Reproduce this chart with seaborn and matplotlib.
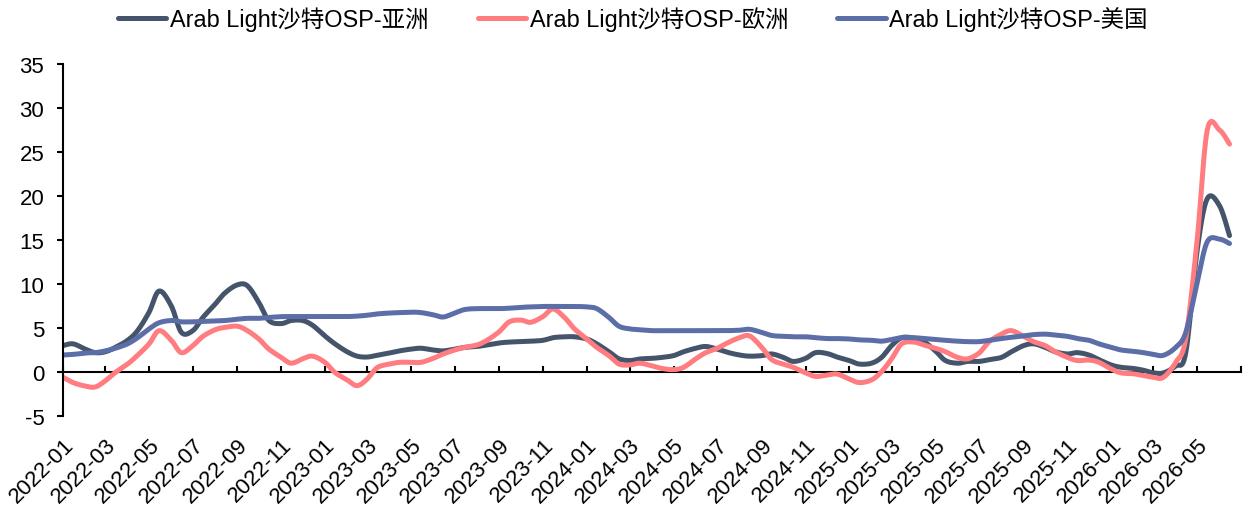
import numpy as np
import pandas as pd
import seaborn as sns
import matplotlib.pyplot as plt
import matplotlib.dates as mdates

# semi-monthly observations, 2022-01-01 .. 2026-06-15
dates = pd.date_range('2022-01-01', periods=108, freq='SMS')

asia = [
    3.0, 3.2, 2.6, 2.2, 2.3, 2.8, 3.6, 4.7, 6.8, 9.2, 7.5, 4.5,
    4.7, 6.2, 7.7, 9.0, 9.9, 9.8, 7.9, 5.85, 5.5, 5.85, 5.85, 5.3,
    4.1, 3.2, 2.3, 1.8, 1.7, 1.9, 2.16, 2.4, 2.6, 2.7, 2.5, 2.4,
    2.6, 2.8, 2.9, 3.07, 3.3, 3.4, 3.45, 3.5, 3.6, 3.9, 4.0, 4.0,
    3.75, 3.2, 2.3, 1.5, 1.3, 1.48, 1.55, 1.66, 1.86, 2.3, 2.7, 2.9,
    2.6, 2.24, 1.93, 1.8, 1.86, 2.05, 1.66, 1.2, 1.55, 2.2, 2.1, 1.7,
    1.3, 0.9, 1.0, 1.66, 3.0, 3.9, 3.85, 3.45, 2.4, 1.3, 1.0, 1.2,
    1.2, 1.4, 1.66, 2.3, 3.0, 3.2, 2.8, 2.3, 2.05, 2.2, 1.93, 1.4,
    0.8, 0.53, 0.4, 0.2, -0.1, -0.1, 0.7, 2.2, 13.9, 19.7, 18.9, 15.5,
]
europe = [
    -0.6, -1.2, -1.6, -1.7, -1.0, -0.05, 0.9, 1.9, 3.2, 4.7, 3.6, 2.2,
    3.0, 4.05, 4.8, 5.07, 5.2, 4.7, 3.75, 2.6, 1.67, 1.0, 1.5, 1.8,
    1.1, -0.05, -0.9, -1.55, -0.8, 0.5, 0.9, 1.1, 1.1, 1.1, 1.55, 2.05,
    2.5, 2.8, 3.07, 3.6, 4.58, 5.7, 5.9, 5.65, 6.3, 7.16, 6.2, 4.9,
    3.75, 2.8, 1.85, 0.9, 0.8, 1.0, 0.7, 0.4, 0.27, 0.53, 1.5, 2.2,
    2.7, 3.3, 3.9, 4.1, 2.8, 1.4, 0.9, 0.53, -0.1, -0.5, -0.35, -0.23,
    -0.8, -1.2, -0.9, 0.04, 1.5, 3.2, 3.4, 3.07, 2.7, 2.3, 1.66, 1.5,
    2.16, 3.45, 4.3, 4.7, 4.05, 3.45, 3.0, 2.3, 1.66, 1.3, 1.36, 1.1,
    0.34, -0.1, -0.2, -0.4, -0.6, -0.6, 1.1, 3.8, 15.1, 27.5, 27.5, 25.9,
]
usa = [
    1.93, 2.0, 2.16, 2.2, 2.4, 2.7, 3.2, 3.9, 4.9, 5.6, 5.85, 5.7,
    5.7, 5.75, 5.8, 5.85, 6.0, 6.1, 6.1, 6.2, 6.29, 6.3, 6.3, 6.3,
    6.3, 6.3, 6.3, 6.35, 6.45, 6.6, 6.7, 6.75, 6.8, 6.75, 6.5, 6.25,
    6.7, 7.1, 7.2, 7.2, 7.2, 7.25, 7.35, 7.4, 7.45, 7.45, 7.45, 7.45,
    7.4, 7.2, 6.2, 5.2, 4.9, 4.8, 4.7, 4.7, 4.7, 4.7, 4.7, 4.7,
    4.7, 4.7, 4.75, 4.85, 4.5, 4.15, 4.05, 4.0, 4.0, 3.9, 3.8, 3.8,
    3.75, 3.65, 3.6, 3.5, 3.7, 3.9, 3.9, 3.8, 3.7, 3.6, 3.5, 3.45,
    3.45, 3.6, 3.8, 3.95, 4.1, 4.25, 4.3, 4.2, 4.05, 3.8, 3.6, 3.2,
    2.8, 2.5, 2.35, 2.2, 2.0, 1.9, 2.8, 4.5, 10.2, 14.8, 15.1, 14.6,
]

names = ['Arab Light沙特OSP-亚洲', 'Arab Light沙特OSP-欧洲', 'Arab Light沙特OSP-美国']
colors = ['#44546A', '#FF7C80', '#5B6EA8']
label_dates = pd.date_range('2022-01-01', '2026-05-01', freq='2MS')
tick_dates = pd.date_range('2022-01-01', '2026-07-01', freq='2MS')


def smooth(x, y, n=12):
    # Catmull-Rom spline, similar to Excel's smoothed line
    x = np.asarray(x, float)
    y = np.asarray(y, float)
    px = np.r_[x[0], x, x[-1]]
    py = np.r_[y[0], y, y[-1]]
    t = np.linspace(0, 1, n, endpoint=False)
    xs, ys = [], []
    for i in range(len(x) - 1):
        for p, out in ((px, xs), (py, ys)):
            p0, p1, p2, p3 = p[i:i + 4]
            out.append(0.5 * (2 * p1 + (-p0 + p2) * t
                              + (2 * p0 - 5 * p1 + 4 * p2 - p3) * t ** 2
                              + (-p0 + 3 * p1 - 3 * p2 + p3) * t ** 3))
    return np.r_[np.concatenate(xs), x[-1]], np.r_[np.concatenate(ys), y[-1]]


xnum = mdates.date2num(dates)
frames = []
for name, vals in zip(names, [asia, europe, usa]):
    xs, ys = smooth(xnum, vals)
    frames.append(pd.DataFrame({'x': xs, 'value': ys, 'series': name}))
df = pd.concat(frames, ignore_index=True)

sns.set_theme(style='white')
plt.rcParams['font.family'] = ['Liberation Sans', 'Noto Sans CJK SC']
plt.rcParams['axes.unicode_minus'] = False
plt.rcParams['text.color'] = 'black'
plt.rcParams['xtick.color'] = 'black'
plt.rcParams['ytick.color'] = 'black'

fig = plt.figure(figsize=(12.48, 5.10), dpi=100)
ax = fig.add_axes([63 / 1248, 1 - 417 / 510, (1241 - 63) / 1248, (417 - 65) / 510])

sns.lineplot(data=df, x='x', y='value', hue='series', hue_order=names,
             palette=colors, estimator=None, sort=False, linewidth=3.6, ax=ax)

ymin, ymax = -5, 35
ax.set_ylim(ymin, ymax)
ax.set_yticks(range(-5, 36, 5))
ax.set_xlim(mdates.date2num(pd.Timestamp('2022-01-01')), mdates.date2num(pd.Timestamp('2026-07-01')))
ax.set_xticks(mdates.date2num(label_dates))
ax.set_xticklabels([d.strftime('%Y-%m') for d in label_dates], rotation=45,
                   ha='right', rotation_mode='anchor')
ax.set_xlabel('')
ax.set_ylabel('')

for s in ['top', 'right', 'bottom']:
    ax.spines[s].set_visible(False)
ax.spines['left'].set_color('black')
ax.spines['left'].set_linewidth(1.5)
ax.tick_params(axis='y', direction='out', length=4.5, width=1.5, labelsize=16, pad=9, left=True)
ax.tick_params(axis='x', length=0, labelsize=16, pad=13)

# horizontal axis line sits at y = 0
sec = ax.secondary_xaxis((0 - ymin) / (ymax - ymin))
sec.set_xticks(mdates.date2num(tick_dates))
sec.tick_params(direction='in', length=4.5, width=1.5, labelbottom=False, bottom=True)
sec.spines['bottom'].set_linewidth(1.5)
sec.spines['bottom'].set_color('black')

handles, labels = ax.get_legend_handles_labels()
ax.get_legend().remove()
leg = fig.legend(handles, labels, loc='center', bbox_to_anchor=(633 / 1248, 1 - 20 / 510),
                 ncol=3, frameon=False, fontsize=16.9, handlelength=2.05,
                 handletextpad=0.15, columnspacing=2.1)
for h in leg.legend_handles:
    h.set_linewidth(3.6)

fig.savefig('out.png', dpi=100)
